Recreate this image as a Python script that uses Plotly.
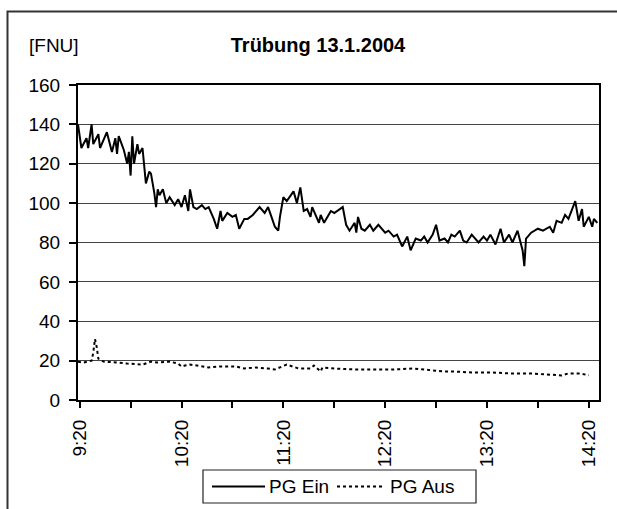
import pandas as pd
import plotly.graph_objects as go

DAY = "2004-01-13 "

# PG Ein (solid)
ein_times = ["9:19", "9:21", "9:24", "9:25", "9:27", "9:28", "9:31", "9:32", "9:34", "9:36",
             "9:39", "9:41", "9:42", "9:43", "9:46", "9:48", "9:49", "9:50", "9:51", "9:52",
             "9:54", "9:55", "9:57", "9:58", "9:59", "10:01", "10:02", "10:04", "10:05", "10:06",
             "10:07", "10:09", "10:11", "10:13", "10:16", "10:18", "10:20", "10:22", "10:24", "10:25",
             "10:27", "10:29", "10:32", "10:34", "10:36", "10:39", "10:41", "10:43", "10:44", "10:47",
             "10:50", "10:52", "10:54", "10:57", "10:59", "11:02", "11:04", "11:06", "11:09", "11:11",
             "11:13", "11:15", "11:17", "11:18", "11:20", "11:22", "11:26", "11:28", "11:30", "11:32",
             "11:34", "11:36", "11:37", "11:41", "11:42", "11:44", "11:48", "11:50", "11:55", "11:57",
             "11:59", "12:02", "12:03", "12:04", "12:06", "12:08", "12:11", "12:13", "12:15", "12:16",
             "12:20", "12:22", "12:25", "12:27", "12:29", "12:30", "12:33", "12:35", "12:38", "12:41",
             "12:43", "12:45", "12:48", "12:50", "12:52", "12:55", "12:57", "12:59", "13:01", "13:04",
             "13:06", "13:08", "13:11", "13:13", "13:15", "13:18", "13:20", "13:22", "13:25", "13:28",
             "13:30", "13:33", "13:35", "13:38", "13:41", "13:42", "13:43", "13:46", "13:50", "13:53",
             "13:57", "13:59", "14:01", "14:04", "14:06", "14:08", "14:12", "14:14", "14:16", "14:17",
             "14:20", "14:22", "14:23", "14:25"]
ein_values = [140, 128, 133, 128, 140, 130, 135, 128, 132, 136,
              126, 133, 125, 134, 127, 120, 126, 114, 134, 120,
              130, 125, 128, 117, 110, 116, 115, 105, 98, 107,
              104, 107, 100, 103, 99, 102, 98, 104, 96, 107,
              98, 97, 99, 97, 98, 92, 87, 96, 91, 95,
              93, 94, 87, 92, 92, 94, 96, 98, 95, 98,
              93, 88, 86, 93, 103, 101, 106, 100, 108, 96,
              97, 93, 98, 90, 94, 90, 96, 95, 98, 89,
              86, 90, 85, 93, 87, 86, 89, 86, 88, 89,
              85, 86, 83, 84, 80, 78, 83, 76, 82, 81,
              83, 80, 84, 89, 81, 82, 80, 84, 83, 86,
              81, 80, 84, 82, 80, 83, 81, 84, 79, 87,
              80, 84, 80, 86, 76, 68, 82, 85, 87, 86,
              88, 85, 91, 90, 94, 92, 101, 91, 97, 88,
              93, 88, 92, 90]

# PG Aus (dotted)
aus_times = ["9:19", "9:22", "9:27", "9:28", "9:29", "9:30", "9:31", "9:34", "9:43", "9:48",
             "9:57", "10:02", "10:06", "10:13", "10:18", "10:20", "10:22", "10:25", "10:29", "10:36",
             "10:41", "10:48", "10:52", "10:57", "11:04", "11:11", "11:15", "11:22", "11:29", "11:36",
             "11:38", "11:42", "11:43", "11:50", "12:02", "12:13", "12:25", "12:36", "12:48", "12:55",
             "12:59", "13:11", "13:22", "13:34", "13:45", "13:57", "14:04", "14:08", "14:15", "14:20"]
aus_values = [19.5, 19, 20, 24, 31, 27, 21, 19.5, 19, 18.5,
              18, 19.5, 19, 19.5, 18.5, 17, 17.5, 18, 17.5, 16.5,
              17, 17, 17, 16, 16.5, 16, 15.5, 18, 16, 16,
              17.5, 14.5, 16.5, 16, 15.5, 15.5, 15.5, 16, 15, 14.5,
              14.5, 14, 14, 13.5, 13.5, 13, 12.5, 13.5, 13.5, 12.5]

series_names = ["PG Ein", "PG Aus"]
tick_labels = ["9:20", "10:20", "11:20", "12:20", "13:20", "14:20"]
y_ticks = [0, 20, 40, 60, 80, 100, 120, 140, 160]


def to_dt(ts):
    return pd.to_datetime([DAY + t for t in ts])


FONT = "Liberation Sans, Arial, sans-serif"
FS = 19

W, H = 617, 509
L, T = 78, 85
PR, PB = 599, 400  # plot right / bottom (px)
pw, ph = PR - L, PB - T


def px(x):
    return (x - L) / pw


def py(y):
    return (PB - y) / ph


fig = go.Figure()
fig.add_trace(go.Scatter(x=to_dt(ein_times), y=ein_values, mode="lines", name=series_names[0],
                         line=dict(color="black", width=2)))
fig.add_trace(go.Scatter(x=to_dt(aus_times), y=aus_values, mode="lines", name=series_names[1],
                         line=dict(color="black", width=2, dash="dot")))

# outer chart frame: only left and top edges fall inside the picture
frame_path = "M {:.5f},{:.5f} L {:.5f},{:.5f} L {:.5f},{:.5f}".format(
    px(7.5), py(530), px(7.5), py(11.5), px(640), py(11.5))

leg_top, leg_bot = 470, 503
leg_mid = (leg_top + leg_bot) / 2
shapes = [
    dict(type="path", xref="paper", yref="paper", path=frame_path,
         line=dict(color="#333", width=2), layer="below"),
    dict(type="rect", xref="paper", yref="paper",
         x0=px(203), x1=px(476), y0=py(leg_bot), y1=py(leg_top),
         line=dict(color="#222", width=1.2), fillcolor="rgba(0,0,0,0)"),
    dict(type="line", xref="paper", yref="paper",
         x0=px(212), x1=px(265), y0=py(leg_mid), y1=py(leg_mid),
         line=dict(color="black", width=2)),
    dict(type="line", xref="paper", yref="paper",
         x0=px(337), x1=px(382), y0=py(leg_mid), y1=py(leg_mid),
         line=dict(color="black", width=2, dash="dot")),
]
annotations = [
    dict(text="[FNU]", xref="paper", yref="paper", x=px(27), y=py(45),
         xanchor="left", yanchor="middle", showarrow=False,
         font=dict(size=FS, family=FONT)),
    dict(text=series_names[0], xref="paper", yref="paper", x=px(267), y=py(leg_mid),
         xanchor="left", yanchor="middle", showarrow=False,
         font=dict(size=FS, family=FONT)),
    dict(text=series_names[1], xref="paper", yref="paper", x=px(388), y=py(leg_mid),
         xanchor="left", yanchor="middle", showarrow=False,
         font=dict(size=FS, family=FONT)),
]

fig.update_layout(
    width=W, height=H,
    margin=dict(l=L, r=W - PR, t=T, b=H - PB),
    paper_bgcolor="white", plot_bgcolor="white",
    font=dict(family=FONT, size=FS, color="black"),
    title=dict(text="<b>Trübung 13.1.2004</b>", x=318 / W, xanchor="center",
               y=1 - 45 / H, yanchor="middle", font=dict(size=20, family=FONT)),
    showlegend=False,
    xaxis=dict(
        type="date", automargin=False,
        range=[DAY + "9:19", DAY + "14:26"],
        tickvals=to_dt(tick_labels), ticktext=tick_labels,
        tickangle=-90, ticks="outside", ticklen=6, tickwidth=1.5, tickcolor="black",
        ticklabelstandoff=4,
        showline=True, linecolor="black", linewidth=2, mirror=True,
        showgrid=False, zeroline=False,
        minor=dict(ticks="outside", ticklen=6, tickwidth=1.5, tickcolor="black",
                   dtick=30 * 60 * 1000, tick0=DAY + "9:20", showgrid=False),
        tickfont=dict(size=FS, family=FONT),
    ),
    yaxis=dict(
        range=[0, 160], tickvals=y_ticks, automargin=False,
        ticks="outside", ticklen=7, tickwidth=1.5, tickcolor="black",
        ticklabelstandoff=5,
        showline=True, linecolor="black", linewidth=2, mirror=True,
        showgrid=True, gridcolor="#444", gridwidth=1, zeroline=False,
        tickfont=dict(size=FS, family=FONT),
    ),
    annotations=annotations,
    shapes=shapes,
)

# remove the default page margin so the 617x509 figure fills the window exactly
fig.write_html("out.html",
               config={"displayModeBar": False},
               post_script="document.body.style.margin='0';"
                           "document.documentElement.style.overflow='hidden';")
